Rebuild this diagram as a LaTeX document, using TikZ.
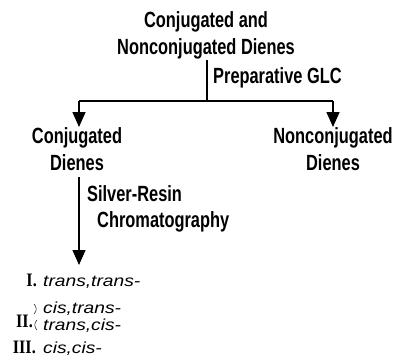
\documentclass[tikz,border=0pt]{standalone}
\usepackage{fontspec}
\setsansfont{Liberation Sans}
\newfontfamily\headfont[FakeStretch=0.745]{Liberation Sans Bold}
\newfontfamily\itemfont[FakeStretch=1.2]{Liberation Sans Italic}
\newfontfamily\numfont[FakeStretch=0.85]{Liberation Serif Bold}
\usetikzlibrary{arrows.meta}
\begin{document}
\begin{tikzpicture}[x=1pt,y=-1pt,
  head/.style={font=\headfont\fontsize{22}{27}\selectfont, align=center, inner sep=0pt},
  lab/.style={font=\headfont\fontsize{22}{26}\selectfont, align=left, inner sep=0pt},
  conn/.style={line width=1.3pt},
  arr/.style={conn, -{Triangle[width=13pt,length=15pt]}},
  num/.style={font=\numfont\fontsize{19}{19}\selectfont, inner sep=0pt, anchor=base east},
  itm/.style={font=\itemfont\fontsize{16}{16}\selectfont, inner sep=0pt, anchor=base west},
  brc/.style={line width=0.45pt}]
\useasboundingbox (0,0) rectangle (394,357);
\node[head] (top) at (206,35.8) {Conjugated and\\Nonconjugated Dienes};
\node[head] (conj) at (77,149.5) {Conjugated\\Dienes};
\node[head] (nonconj) at (333,149.5) {Nonconjugated\\Dienes};
\coordinate (v1) at (207,60);
\coordinate (split) at (207,101);
\coordinate (lt) at (79,101);
\coordinate (rt) at (333,101);
\coordinate (tipL) at (79,127);
\coordinate (tipR) at (333,127);
\coordinate (s2) at (79,177);
\coordinate (tip2) at (79,265);
\draw[conn] (v1) -- (split);
\draw[conn] (lt) -- (rt);
\draw[arr] (lt) -- (tipL);
\draw[arr] (rt) -- (tipR);
\draw[arr] (s2) -- (tip2);
\node[lab, anchor=base west] (glc) at (213,83) {Preparative GLC};
\node[lab, anchor=west] (sr) at (87,209.3) {Silver-Resin\\\hspace*{10pt}Chromatography};
\node[num] (n1) at (37,286) {I.};
\node[itm] (i1) at (43,286) {trans,trans-};
\node[num] (n2) at (33,327) {II.};
\node[itm] (i2a) at (43,313) {cis,trans-};
\node[itm] (i2b) at (43,330) {trans,cis-};
\node[num] (n3) at (36,353) {III.};
\node[itm] (i3) at (43,353) {cis,cis-};
\draw[brc] (34,304) .. controls (37,307) and (37,311) .. (34,314);
\draw[brc] (37,320) .. controls (34,323) and (34,327) .. (37,330);
\end{tikzpicture}
\end{document}
